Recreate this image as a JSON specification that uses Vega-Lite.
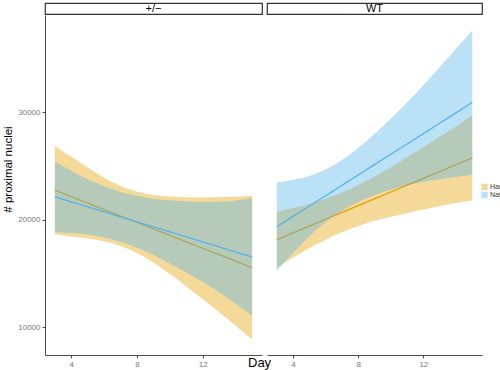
{
 "$schema": "https://vega.github.io/schema/vega-lite/v6.json",
 "padding": {"left": 2, "top": 1, "right": 0, "bottom": 0},
 "autosize": {"type": "pad"},
 "background": "white",
 "title": {"text": "Day", "orient": "bottom", "anchor": "start", "frame": "group", "dx": 203, "dy": -6, "fontSize": 13, "fontWeight": "normal", "color": "black", "offset": -5, "baseline": "top"},
 "config": {
  "font": "Liberation Sans",
  "view": {"stroke": null},
  "axis": {"grid": false, "domainColor": "#4d4d4d", "tickColor": "#4d4d4d", "labelColor": "#777777", "labelFontSize": 8, "tickSize": 3, "labelPadding": 2, "domainWidth": 1, "tickWidth": 1, "titleFontWeight": "normal", "titleColor": "black"}
 },
 "datasets": {
  "strips": [{"panel": "+/−"}, {"panel": "WT"}],
  "fits": [
   {"panel": "+/−", "group": "Han", "day": 3, "fit": 22750, "lower": 18660, "upper": 26840},
   {"panel": "+/−", "group": "Han", "day": 4, "fit": 22150, "lower": 18450, "upper": 25850},
   {"panel": "+/−", "group": "Han", "day": 5, "fit": 21550, "lower": 18250, "upper": 24850},
   {"panel": "+/−", "group": "Han", "day": 6, "fit": 20950, "lower": 18000, "upper": 23900},
   {"panel": "+/−", "group": "Han", "day": 7, "fit": 20350, "lower": 17570, "upper": 23130},
   {"panel": "+/−", "group": "Han", "day": 8, "fit": 19750, "lower": 16900, "upper": 22600},
   {"panel": "+/−", "group": "Han", "day": 9, "fit": 19150, "lower": 16000, "upper": 22300},
   {"panel": "+/−", "group": "Han", "day": 10, "fit": 18550, "lower": 14950, "upper": 22150},
   {"panel": "+/−", "group": "Han", "day": 11, "fit": 17950, "lower": 13800, "upper": 22100},
   {"panel": "+/−", "group": "Han", "day": 12, "fit": 17350, "lower": 12600, "upper": 22100},
   {"panel": "+/−", "group": "Han", "day": 13, "fit": 16750, "lower": 11400, "upper": 22100},
   {"panel": "+/−", "group": "Han", "day": 14, "fit": 16150, "lower": 10150, "upper": 22150},
   {"panel": "+/−", "group": "Han", "day": 15, "fit": 15550, "lower": 8870, "upper": 22230},
   {"panel": "+/−", "group": "Nat", "day": 3, "fit": 22130, "lower": 18860, "upper": 25400},
   {"panel": "+/−", "group": "Nat", "day": 4, "fit": 21665, "lower": 18765, "upper": 24565},
   {"panel": "+/−", "group": "Nat", "day": 5, "fit": 21200, "lower": 18630, "upper": 23770},
   {"panel": "+/−", "group": "Nat", "day": 6, "fit": 20730, "lower": 18350, "upper": 23110},
   {"panel": "+/−", "group": "Nat", "day": 7, "fit": 20265, "lower": 17945, "upper": 22585},
   {"panel": "+/−", "group": "Nat", "day": 8, "fit": 19800, "lower": 17400, "upper": 22200},
   {"panel": "+/−", "group": "Nat", "day": 9, "fit": 19335, "lower": 16735, "upper": 21935},
   {"panel": "+/−", "group": "Nat", "day": 10, "fit": 18870, "lower": 15920, "upper": 21820},
   {"panel": "+/−", "group": "Nat", "day": 11, "fit": 18400, "lower": 15100, "upper": 21700},
   {"panel": "+/−", "group": "Nat", "day": 12, "fit": 17935, "lower": 14215, "upper": 21655},
   {"panel": "+/−", "group": "Nat", "day": 13, "fit": 17470, "lower": 13270, "upper": 21670},
   {"panel": "+/−", "group": "Nat", "day": 14, "fit": 17000, "lower": 12200, "upper": 21800},
   {"panel": "+/−", "group": "Nat", "day": 15, "fit": 16540, "lower": 11090, "upper": 21990},
   {"panel": "WT", "group": "Han", "day": 3, "fit": 18150, "lower": 15570, "upper": 20730},
   {"panel": "WT", "group": "Han", "day": 4, "fit": 18783, "lower": 16483, "upper": 21083},
   {"panel": "WT", "group": "Han", "day": 5, "fit": 19416, "lower": 17366, "upper": 21466},
   {"panel": "WT", "group": "Han", "day": 6, "fit": 20049, "lower": 18149, "upper": 21949},
   {"panel": "WT", "group": "Han", "day": 7, "fit": 20682, "lower": 18832, "upper": 22532},
   {"panel": "WT", "group": "Han", "day": 8, "fit": 21315, "lower": 19415, "upper": 23215},
   {"panel": "WT", "group": "Han", "day": 9, "fit": 21948, "lower": 19898, "upper": 23998},
   {"panel": "WT", "group": "Han", "day": 10, "fit": 22581, "lower": 20281, "upper": 24881},
   {"panel": "WT", "group": "Han", "day": 11, "fit": 23214, "lower": 20614, "upper": 25814},
   {"panel": "WT", "group": "Han", "day": 12, "fit": 23847, "lower": 20947, "upper": 26747},
   {"panel": "WT", "group": "Han", "day": 13, "fit": 24480, "lower": 21280, "upper": 27680},
   {"panel": "WT", "group": "Han", "day": 14, "fit": 25113, "lower": 21563, "upper": 28663},
   {"panel": "WT", "group": "Han", "day": 15, "fit": 25746, "lower": 21796, "upper": 29696},
   {"panel": "WT", "group": "Nat", "day": 3, "fit": 19350, "lower": 15250, "upper": 23450},
   {"panel": "WT", "group": "Nat", "day": 4, "fit": 20312, "lower": 16912, "upper": 23712},
   {"panel": "WT", "group": "Nat", "day": 5, "fit": 21274, "lower": 18474, "upper": 24074},
   {"panel": "WT", "group": "Nat", "day": 6, "fit": 22236, "lower": 19786, "upper": 24686},
   {"panel": "WT", "group": "Nat", "day": 7, "fit": 23198, "lower": 20848, "upper": 25548},
   {"panel": "WT", "group": "Nat", "day": 8, "fit": 24160, "lower": 21660, "upper": 26660},
   {"panel": "WT", "group": "Nat", "day": 9, "fit": 25122, "lower": 22272, "upper": 27972},
   {"panel": "WT", "group": "Nat", "day": 10, "fit": 26084, "lower": 22784, "upper": 29384},
   {"panel": "WT", "group": "Nat", "day": 11, "fit": 27046, "lower": 23196, "upper": 30896},
   {"panel": "WT", "group": "Nat", "day": 12, "fit": 28008, "lower": 23508, "upper": 32508},
   {"panel": "WT", "group": "Nat", "day": 13, "fit": 28970, "lower": 23770, "upper": 34170},
   {"panel": "WT", "group": "Nat", "day": 14, "fit": 29932, "lower": 23982, "upper": 35882},
   {"panel": "WT", "group": "Nat", "day": 15, "fit": 30894, "lower": 24194, "upper": 37594}
  ]
 },
 "spacing": 3,
 "hconcat": [
  {
   "spacing": 0,
   "vconcat": [
    {
     "data": {"name": "strips"},
     "transform": [{"filter": "datum.panel === '+/−'"}],
     "width": 217, "height": 11,
     "view": {"stroke": "#333333", "strokeWidth": 1.2},
     "mark": {"type": "text", "fontSize": 11, "color": "black", "baseline": "middle"},
     "encoding": {"text": {"field": "panel"}}
    },
    {
     "data": {"name": "fits"},
     "transform": [{"filter": "datum.panel === '+/−'"}],
     "width": 217, "height": 340,
     "encoding": {
      "x": {"field": "day", "type": "quantitative", "scale": {"domain": [2.4, 15.6], "nice": false, "zero": false},
            "axis": {"values": [4, 8, 12], "title": null}},
      "color": {"field": "group", "type": "nominal", "scale": {"domain": ["Han", "Nat"], "range": ["#E69F00", "#56B4E9"]},
                "legend": {"title": null, "orient": "none", "legendX": 436, "legendY": 180, "labelFontSize": 7, "symbolType": "square", "symbolSize": 25, "rowPadding": 0, "clipHeight": 8, "labelColor": "#333333", "labelOffset": 2}}
     },
     "layer": [
      {"transform": [{"filter": "datum.group === 'Han'"}], "mark": {"type": "area", "opacity": 0.4, "interpolate": "monotone"},
       "encoding": {"y": {"field": "lower", "type": "quantitative", "scale": {"domain": [7430, 39030], "nice": false, "zero": false},
                          "axis": {"values": [10000, 20000, 30000], "format": "d", "title": "# proximal nuclei", "titleFontSize": 11.5, "titleY": 154, "titlePadding": 4}},
                    "y2": {"field": "upper"}}},
      {"transform": [{"filter": "datum.group === 'Han'"}], "mark": {"type": "line", "strokeWidth": 1.3},
       "encoding": {"y": {"field": "fit", "type": "quantitative", "scale": {"domain": [7430, 39030], "nice": false, "zero": false},
                          "axis": {"values": [10000, 20000, 30000], "format": "d", "title": "# proximal nuclei", "titleFontSize": 11.5, "titleY": 154, "titlePadding": 4}}}},
      {"transform": [{"filter": "datum.group === 'Nat'"}], "mark": {"type": "area", "opacity": 0.4, "interpolate": "monotone"},
       "encoding": {"y": {"field": "lower", "type": "quantitative", "scale": {"domain": [7430, 39030], "nice": false, "zero": false},
                          "axis": {"values": [10000, 20000, 30000], "format": "d", "title": "# proximal nuclei", "titleFontSize": 11.5, "titleY": 154, "titlePadding": 4}},
                    "y2": {"field": "upper"}}},
      {"transform": [{"filter": "datum.group === 'Nat'"}], "mark": {"type": "line", "strokeWidth": 1.3},
       "encoding": {"y": {"field": "fit", "type": "quantitative", "scale": {"domain": [7430, 39030], "nice": false, "zero": false},
                          "axis": {"values": [10000, 20000, 30000], "format": "d", "title": "# proximal nuclei", "titleFontSize": 11.5, "titleY": 154, "titlePadding": 4}}}}
     ]
    }
   ]
  },
  {
   "spacing": 0,
   "vconcat": [
    {
     "data": {"name": "strips"},
     "transform": [{"filter": "datum.panel === 'WT'"}],
     "width": 215, "height": 11,
     "view": {"stroke": "#333333", "strokeWidth": 1.2},
     "mark": {"type": "text", "fontSize": 11, "color": "black", "baseline": "middle"},
     "encoding": {"text": {"field": "panel"}}
    },
    {
     "data": {"name": "fits"},
     "transform": [{"filter": "datum.panel === 'WT'"}],
     "width": 215, "height": 340,
     "encoding": {
      "x": {"field": "day", "type": "quantitative", "scale": {"domain": [2.4, 15.6], "nice": false, "zero": false},
            "axis": {"values": [4, 8, 12], "title": null}},
      "color": {"field": "group", "type": "nominal", "scale": {"domain": ["Han", "Nat"], "range": ["#E69F00", "#56B4E9"]},
                "legend": {"title": null, "orient": "none", "legendX": 436, "legendY": 180, "labelFontSize": 7, "symbolType": "square", "symbolSize": 25, "rowPadding": 0, "clipHeight": 8, "labelColor": "#333333", "labelOffset": 2}}
     },
     "layer": [
      {"transform": [{"filter": "datum.group === 'Han'"}], "mark": {"type": "area", "opacity": 0.4, "interpolate": "monotone"},
       "encoding": {"y": {"field": "lower", "type": "quantitative", "scale": {"domain": [7430, 39030], "nice": false, "zero": false}, "axis": null},
                    "y2": {"field": "upper"}}},
      {"transform": [{"filter": "datum.group === 'Han'"}], "mark": {"type": "line", "strokeWidth": 1.3},
       "encoding": {"y": {"field": "fit", "type": "quantitative", "scale": {"domain": [7430, 39030], "nice": false, "zero": false}, "axis": null}}},
      {"transform": [{"filter": "datum.group === 'Nat'"}], "mark": {"type": "area", "opacity": 0.4, "interpolate": "monotone"},
       "encoding": {"y": {"field": "lower", "type": "quantitative", "scale": {"domain": [7430, 39030], "nice": false, "zero": false}, "axis": null},
                    "y2": {"field": "upper"}}},
      {"transform": [{"filter": "datum.group === 'Nat'"}], "mark": {"type": "line", "strokeWidth": 1.3},
       "encoding": {"y": {"field": "fit", "type": "quantitative", "scale": {"domain": [7430, 39030], "nice": false, "zero": false}, "axis": null}}}
     ]
    }
   ]
  }
 ]
}
